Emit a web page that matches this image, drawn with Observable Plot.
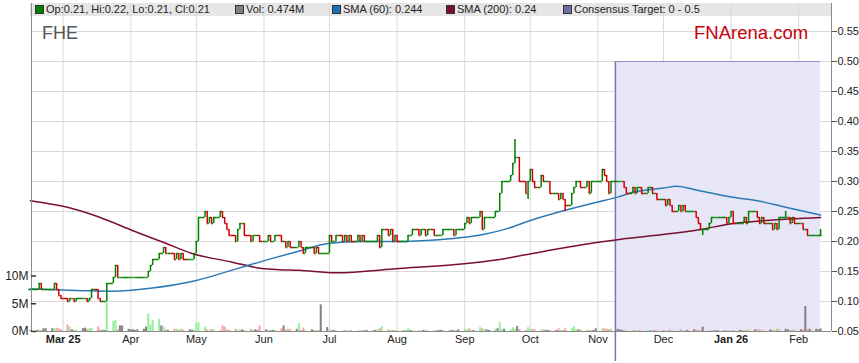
<!DOCTYPE html>
<html>
<head>
<meta charset="utf-8">
<script src="https://cdn.jsdelivr.net/npm/d3@7"></script>
<script src="https://cdn.jsdelivr.net/npm/@observablehq/plot@0.6"></script>
<style>
  html, body { margin: 0; padding: 0; background: #fff; }
  #wrap { position: relative; width: 859px; height: 363px; font-family: "Liberation Sans", Arial, sans-serif; }
  #band { position: absolute; left: 30px; top: 3px; width: 801px; height: 13px; background: #e6e6e6; }
  .leg { position: absolute; top: 3px; height: 13px; line-height: 13px; font-size: 11px; color: #222; white-space: nowrap; }
  .sq { position: absolute; top: 5px; width: 7px; height: 7px; border: 1px solid #333; }
  .layer { position: absolute; left: 0; top: 0; }
  #fhe { position: absolute; left: 42px; top: 24px; font-size: 18px; line-height: 18px; color: #555; }
  #fna { position: absolute; left: 694px; top: 24px; font-size: 18.5px; line-height: 18px; color: #c8000a; }
</style>
</head>
<body>
<div id="wrap">
  <div id="band"></div>
  <div id="main" class="layer"></div>
  <div id="vol" class="layer"></div>
  <div id="legend"></div>
  <div id="fhe">FHE</div>
  <div id="fna">FNArena.com</div>
</div>
<script>
// ---------- data ----------
const firstDay = "2025-02-14";            // first trading day shown
// daily closes, one row per week (Mon..Fri); first row = Fri 14 Feb 2025
const closes = [
  0.12,
  0.12, 0.13, 0.12, 0.12, 0.12,
  0.12, 0.13, 0.12, 0.11, 0.105,
  0.10, 0.105, 0.105, 0.10, 0.105,
  0.105, 0.105, 0.10, 0.105, 0.12,
  0.105, 0.10, 0.10, 0.10, 0.13,
  0.14, 0.16, 0.14, 0.14, 0.14,
  0.14, 0.14, 0.14, 0.14, 0.14,
  0.14, 0.14, 0.15, 0.16, 0.17,
  0.18, 0.18, 0.19, 0.18, 0.18,
  0.17, 0.18, 0.17, 0.18, 0.17,
  0.17, 0.17, 0.18, 0.20, 0.24,
  0.25, 0.23, 0.24, 0.23, 0.24,
  0.25, 0.24, 0.23, 0.22, 0.21,
  0.20, 0.22, 0.23, 0.23, 0.21,
  0.20, 0.21, 0.21, 0.21, 0.20,
  0.20, 0.21, 0.20, 0.20, 0.21,
  0.20, 0.20, 0.19, 0.20, 0.19,
  0.19, 0.20, 0.19, 0.18, 0.19,
  0.19, 0.18, 0.19, 0.18, 0.18,
  0.18, 0.21, 0.20, 0.20, 0.21,
  0.20, 0.21, 0.20, 0.21, 0.20,
  0.21, 0.20, 0.21, 0.20, 0.20,
  0.20, 0.20, 0.21, 0.19, 0.22,
  0.21, 0.22, 0.20, 0.21, 0.20,
  0.20, 0.20, 0.21, 0.21, 0.22,
  0.21, 0.22, 0.22, 0.21, 0.22,
  0.21, 0.21, 0.21, 0.21, 0.22,
  0.22, 0.22, 0.21, 0.22, 0.22,
  0.23, 0.24, 0.23, 0.24, 0.24,
  0.25, 0.22, 0.24, 0.24, 0.24,
  0.25, 0.25, 0.28, 0.30, 0.30,
  0.31, 0.33, 0.34, 0.34, 0.30,
  0.28, 0.30, 0.32, 0.30, 0.29,
  0.31, 0.30, 0.30, 0.30, 0.28,
  0.28, 0.27, 0.28, 0.27, 0.26,
  0.28, 0.29, 0.30, 0.30, 0.29,
  0.30, 0.28, 0.30, 0.30, 0.30,
  0.32, 0.31, 0.30, 0.28, 0.30,
  0.30, 0.30, 0.30, 0.29, 0.28,
  0.29, 0.28, 0.29, 0.29, 0.28,
  0.29, 0.29, 0.28, 0.28, 0.27,
  0.27, 0.26, 0.27, 0.26, 0.25,
  0.26, 0.25, 0.26, 0.25, 0.25,
  0.25, 0.24, 0.23, 0.22, 0.22,
  0.23, 0.24, 0.24, 0.24, 0.24,
  0.24, 0.23, 0.24, 0.25, 0.23,
  0.23, 0.23, 0.24, 0.23, 0.25,
  0.25, 0.24, 0.23, 0.24, 0.23,
  0.23, 0.22, 0.23, 0.22, 0.24,
  0.24, 0.24, 0.23, 0.24, 0.23,
  0.23, 0.22, 0.22, 0.21, 0.21,
  0.21, 0.21, 0.21
];
// daily volume in millions, same layout
const volumes = [
  0.2,
  0.2, 0.3, 0.2, 0.5, 0.5,
  0.5, 0.5, 0.6, 0.5, 0.3,
  1.2, 0.8, 0.3, 0.2, 0.2,
  0.5, 0.6, 0.4, 0.5, 0.6,
  0.8, 0.3, 0.2, 0.2, 5.2,
  1.8, 2.0, 0.3, 1.0, 1.0,
  0.4, 0.3, 0.3, 0.2, 0.3,
  0.4, 0.8, 3.2, 1.2, 2.0,
  2.2, 1.0, 0.8, 0.3, 0.2,
  0.4, 0.4, 0.2, 0.4, 0.3,
  0.3, 0.2, 0.2, 1.4, 1.6,
  0.8, 0.3, 0.2, 0.4, 0.3,
  0.2, 1.0, 0.8, 0.3, 0.2,
  0.4, 0.2, 0.2, 0.3, 0.2,
  0.4, 0.2, 0.3, 0.2, 1.0,
  0.3, 0.2, 0.2, 0.2, 0.2,
  0.5, 1.0, 0.3, 0.4, 0.4,
  0.4, 1.4, 0.2, 0.6, 0.2,
  0.3, 0.2, 0.2, 0.2, 4.8,
  0.7, 0.2, 0.2, 0.2, 0.1,
  0.1, 0.2, 0.1, 0.1, 0.2,
  0.1, 0.1, 0.2, 0.2, 0.2,
  0.1, 0.2, 0.3, 0.5, 0.9,
  0.3, 0.2, 0.2, 0.2, 0.1,
  0.1, 0.1, 0.5, 0.2, 0.2,
  0.1, 0.1, 0.2, 0.2, 0.1,
  0.1, 0.1, 0.2, 0.2, 0.2,
  0.1, 0.2, 0.2, 0.2, 0.3,
  0.4, 0.3, 0.5, 0.2, 0.2,
  0.7, 0.5, 0.4, 0.3, 0.2,
  0.4, 0.5, 1.6, 0.4, 0.4,
  0.3, 0.7, 0.4, 0.9, 0.4,
  0.2, 0.7, 0.4, 0.4, 0.3,
  0.3, 0.3, 0.2, 0.2, 0.2,
  0.2, 0.5, 0.2, 0.2, 0.5,
  0.5, 0.9, 0.3, 0.3, 0.3,
  0.2, 0.2, 0.2, 0.2, 0.5,
  0.5, 0.5, 0.4, 0.3, 0.4,
  0.4, 0.3, 0.2, 0.2, 0.1,
  0.3, 0.2, 0.1, 0.1, 0.1,
  0.2, 0.1, 0.2, 0.1, 0.1,
  0.1, 0.1, 0.1, 0.3, 0.1,
  0.1, 0.3, 0.1, 0.1, 0.2,
  0.3, 0.3, 0.2, 0.2, 0.8,
  0.2, 0.1, 0.1, 0.1, 0.1,
  0.1, 0.1, 0.1, 0.1, 0.2,
  0.2, 0.1, 0.2, 0.2, 0.3,
  0.3, 0.3, 0.3, 0.2, 0.1,
  0.3, 0.2, 0.2, 0.4, 0.4,
  0.4, 0.3, 0.2, 0.3, 0.2,
  0.3, 0.3, 4.5, 0.4, 0.4,
  0.4, 0.3, 0.474
];
// intraday extremes beyond open/close
const extremes = [
  { date: "2025-09-24", high: 0.37, low: 0.33 },
  { date: "2025-09-30", low: 0.27 },
  { date: "2025-10-17", low: 0.25 },
  { date: "2025-12-19", low: 0.21 },
  { date: "2026-01-26", high: 0.25 },
  { date: "2026-02-11", high: 0.22 }
];
const sma60 = [
  ["2025-02-14", 0.121], ["2025-03-10", 0.118], ["2025-03-24", 0.117], ["2025-04-10", 0.122],
  ["2025-05-01", 0.135], ["2025-05-19", 0.154], ["2025-06-02", 0.169], ["2025-06-16", 0.183],
  ["2025-07-01", 0.197], ["2025-07-15", 0.200], ["2025-08-01", 0.200], ["2025-08-20", 0.203],
  ["2025-09-01", 0.207], ["2025-09-10", 0.212], ["2025-09-20", 0.221], ["2025-10-01", 0.235],
  ["2025-10-17", 0.252], ["2025-11-01", 0.266], ["2025-11-10", 0.274], ["2025-11-17", 0.282],
  ["2025-12-01", 0.289], ["2025-12-07", 0.292], ["2025-12-17", 0.285], ["2026-01-01", 0.274],
  ["2026-01-13", 0.268], ["2026-01-26", 0.257], ["2026-02-11", 0.244]
];
const sma200 = [
  ["2025-02-14", 0.268], ["2025-03-03", 0.257], ["2025-03-18", 0.240], ["2025-04-02", 0.218],
  ["2025-04-17", 0.197], ["2025-04-29", 0.180], ["2025-05-17", 0.166], ["2025-05-31", 0.155],
  ["2025-06-08", 0.153], ["2025-06-17", 0.152], ["2025-07-04", 0.148], ["2025-08-02", 0.155],
  ["2025-08-29", 0.162], ["2025-09-17", 0.170], ["2025-10-02", 0.180], ["2025-11-02", 0.199],
  ["2025-11-10", 0.203], ["2025-12-18", 0.220], ["2026-01-02", 0.230], ["2026-01-17", 0.235],
  ["2026-02-11", 0.240]
];
const target = { start: "2025-11-09", end: "2026-02-11", low: 0, high: 0.5 };
const monthTicks = ["2025-03-01","2025-04-01","2025-05-01","2025-06-01","2025-07-01","2025-08-01",
  "2025-09-01","2025-10-01","2025-11-01","2025-12-01","2026-01-01","2026-02-01"];
const monthLabels = ["Mar 25","Apr","May","Jun","Jul","Aug","Sep","Oct","Nov","Dec","Jan 26","Feb"];
const yearLabels = ["Mar 25", "Jan 26"];
const priceTicks = [0.05,0.10,0.15,0.20,0.25,0.30,0.35,0.40,0.45,0.50,0.55];
const volTicks = [0, 5, 10];
const xDomain = ["2025-02-14T12:00Z", "2026-02-16T00:00Z"];
const legendItems = [
  { text: "Op:0.21, Hi:0.22, Lo:0.21, Cl:0.21", color: "#008000", x: 35 },
  { text: "Vol: 0.474M", color: "#808080", x: 235 },
  { text: "SMA (60): 0.244", color: "#1f6fb2", x: 332 },
  { text: "SMA (200): 0.24", color: "#7a0f33", x: 446 },
  { text: "Consensus Target: 0 - 0.5", color: "#6f6fa8", x: 563 }
];

// ---------- build ----------
const D = s => new Date(s.length > 10 ? s : s + "T00:00Z");
const DAY = 864e5;
const days = [];
for (let t = D(firstDay).getTime(); days.length < closes.length; t += DAY) {
  const wd = new Date(t).getUTCDay();
  if (wd !== 0 && wd !== 6) days.push(new Date(t));
}
const ext = new Map(extremes.map(e => [D(e.date).getTime(), e]));
const GREEN = "#008000", RED = "#d00000";
const bars = closes.map((c, i) => {
  const o = i ? closes[i - 1] : c;
  const e = ext.get(days[i].getTime()) || {};
  const prev = i ? days[i - 1].getTime() : days[i].getTime() - 1.5 * DAY;
  const next = i < closes.length - 1 ? days[i + 1].getTime() : days[i].getTime() + 1.5 * DAY;
  return {
    date: days[i], open: o, close: c,
    high: e.high ?? Math.max(o, c), low: e.low ?? Math.min(o, c),
    left: new Date((prev + days[i].getTime()) / 2),
    right: new Date((next + days[i].getTime()) / 2),
    color: c >= o ? GREEN : RED
  };
});
const vols = volumes.map((v, i) => ({
  date: days[i], v,
  color: i === 0 || closes[i] === closes[i - 1] ? "#808080" : (closes[i] > closes[i - 1] ? "#98ee98" : "#f7a3a3")
}));
const mt = monthTicks.map(D);
const labelData = monthTicks.map((d, i) => ({ date: D(d), label: monthLabels[i] }));

const common = {
  width: 859, height: 363,
  marginLeft: 31, marginRight: 28, marginTop: 3, marginBottom: 32,
  style: { background: "transparent", fontFamily: "'Liberation Sans', Arial, sans-serif", fontSize: "11px", color: "#222", overflow: "visible" },
  x: { type: "utc", domain: xDomain.map(D), axis: null }
};

const main = Plot.plot({
  ...common,
  y: { domain: [0.05, 0.55], range: [331, 31], axis: null, label: null },
  marks: [
    Plot.gridX(mt, { stroke: "#d9d9d9", strokeOpacity: 1 }),
    Plot.gridY(priceTicks, { stroke: "#d9d9d9", strokeOpacity: 1 }),
    Plot.rect([target], { x1: d => D(d.start), x2: d => D(d.end), y1: "low", y2: "high", fill: "#e6e6f6", clip: true }),
    Plot.ruleY([target], { y: "high", x1: d => D(d.start), x2: d => D(d.end), stroke: "#8f8fc4", strokeWidth: 1 }),
    Plot.ruleX([target], { x: d => D(d.start), y1: "low", y2: "high", stroke: "#7878b4", strokeWidth: 1.5 }),
    Plot.line(sma200, { x: d => D(d[0]), y: d => d[1], stroke: "#7a0f33", strokeWidth: 1.5, curve: "monotone-x" }),
    Plot.line(sma60, { x: d => D(d[0]), y: d => d[1], stroke: "#2a7ab5", strokeWidth: 1.5, curve: "monotone-x" }),
    Plot.ruleX(bars, { x: "date", y1: "low", y2: "high", stroke: "color", strokeWidth: 1.5 }),
    Plot.ruleY(bars, { y: "open", x1: "left", x2: "date", stroke: "color", strokeWidth: 1.5 }),
    Plot.ruleY(bars, { y: "close", x1: "date", x2: "right", stroke: "color", strokeWidth: 1.5 }),
    Plot.ruleX([D(xDomain[0])], { stroke: "#8a8a8a" }),
    Plot.ruleX([D(xDomain[1])], { stroke: "#8a8a8a" }),
    Plot.ruleY([0.05], { stroke: "#8a8a8a" }),
    Plot.axisY(priceTicks, { anchor: "right", label: null, tickSize: 5, tickPadding: 1, tickFormat: d3.format(".2f"), stroke: "#555", fill: "#222", fontSize: 11 }),
    Plot.text(labelData.filter(d => !yearLabels.includes(d.label)), { x: "date", text: "label", frameAnchor: "bottom", dy: 11, fill: "#222", fontSize: 11 }),
    Plot.text(labelData.filter(d => yearLabels.includes(d.label)), { x: "date", text: "label", frameAnchor: "bottom", dy: 11, fill: "#222", fontSize: 11, fontWeight: "bold" })
  ]
});
document.getElementById("main").appendChild(main);

const tickShape = { draw(ctx, l) { ctx.moveTo(0, 0); ctx.lineTo(0, -l); } };
const vol = Plot.plot({
  ...common,
  y: { domain: [0, 10], range: [331, 275.5], axis: null, label: null },
  marks: [
    Plot.ruleX(vols, { x: "date", y1: 0, y2: "v", stroke: "color", strokeWidth: 2 }),
    Plot.vector(volTicks, { y: d => d, frameAnchor: "left", length: 4, rotate: 90, anchor: "start", shape: tickShape, stroke: "#333" }),
    Plot.axisY(volTicks, { anchor: "left", label: null, tickSize: 0, tickPadding: 3, tickFormat: d => d + "M", fill: "#222", fontSize: 12 })
  ]
});
document.getElementById("vol").appendChild(vol);

const leg = document.getElementById("legend");
for (const it of legendItems) {
  const sq = document.createElement("div");
  sq.className = "sq"; sq.style.left = it.x + "px"; sq.style.background = it.color;
  leg.appendChild(sq);
  const t = document.createElement("div");
  t.className = "leg"; t.style.left = (it.x + 11) + "px"; t.textContent = it.text;
  leg.appendChild(t);
}
</script>
</body>
</html>
